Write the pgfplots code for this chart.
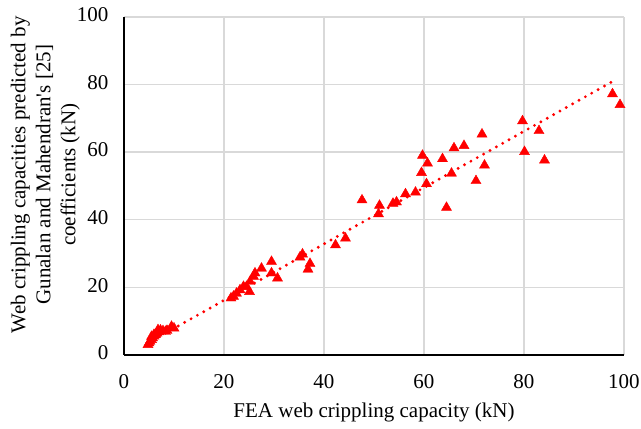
\documentclass[border=0pt]{standalone}
\usepackage{fontspec}
\setmainfont{Liberation Serif}
\usepackage{pgfplots}
\pgfplotsset{compat=1.18}
\definecolor{gridgray}{HTML}{D9D9D9}
\begin{document}
\begin{tikzpicture}
\begin{axis}[
  scale only axis,
  width=500pt, height=338pt,
  xmin=0, xmax=100, ymin=0, ymax=100,
  xtick={0,20,...,100}, ytick={0,20,...,100},
  major tick length=0pt,
  axis x line*=bottom, axis y line*=left,
  axis line style={black, line width=1.6pt},
  grid=major,
  major grid style={gridgray, line width=1.3pt},
  font=\fontsize{21}{25}\selectfont,
  /pgf/number format/assume math mode=true,
  xticklabel style={yshift=-16pt},
  yticklabel style={xshift=-12pt, yshift=2pt},
  xlabel={FEA web crippling capacity (kN)},
  xlabel style={at={(axis description cs:0.5,0)}, anchor=base, yshift=-63pt, inner sep=0pt},
  ylabel={Web crippling capacities predicted by\\Gunalan and Mahendran\textquotesingle s [25]\\coefficients (kN)},
  ylabel style={align=center, at={(axis description cs:-0.088,0.533)}, anchor=south, inner sep=0pt},
  clip=false,
]
\addplot[red, line width=3.2pt, line cap=round, dash pattern=on 0pt off 7.3pt] coordinates {(4.5,3.25) (98.3,81.4)};
\addplot[only marks, mark=triangle*, mark size=5.8pt, color=red, mark options={fill=red, draw=red}] coordinates {
(4.8,3.0) (5.0,3.5) (5.2,4.0) (5.5,4.5) (5.7,5.0) (5.5,5.4) (6.0,5.5) (6.0,6.0)
(6.3,6.0) (6.6,6.4) (6.8,7.4) (7.0,6.8) (7.3,7.3) (7.8,7.1) (8.3,6.9) (8.6,7.2)
(9.5,8.4) (10.0,7.9)
(21.4,16.8) (21.9,17.3) (22.5,18.2) (23.2,19.2) (23.9,20.2) (24.5,20.2) (25.1,18.7)
(25.2,21.7) (25.9,23.2) (26.2,24.2) (27.5,25.6) (29.5,27.6) (29.5,24.2) (30.7,22.7)
(35.2,28.9) (35.7,29.8) (36.8,25.3) (37.2,27.0) (42.3,32.5) (44.3,34.5) (47.6,45.8)
(50.9,41.7) (51.1,44.2) (53.8,44.8) (54.5,45.2) (56.3,47.6) (58.3,48.1) (59.5,53.9)
(59.7,59.0) (60.5,50.6) (60.7,56.7) (63.7,58.0) (64.5,43.6) (65.5,53.7) (66.0,61.2)
(68.0,61.9) (70.4,51.5) (71.6,65.3) (72.1,56.1) (79.7,69.2) (80.1,60.1) (83.0,66.3)
(84.1,57.6) (97.7,77.2) (99.2,74.0)
};
\coordinate (bl) at (axis cs:-24.8,-21.9);
\coordinate (tr) at (axis cs:103.4,105.0);
\end{axis}
\pgfresetboundingbox
\path (bl) rectangle (tr);
\end{tikzpicture}
\end{document}
